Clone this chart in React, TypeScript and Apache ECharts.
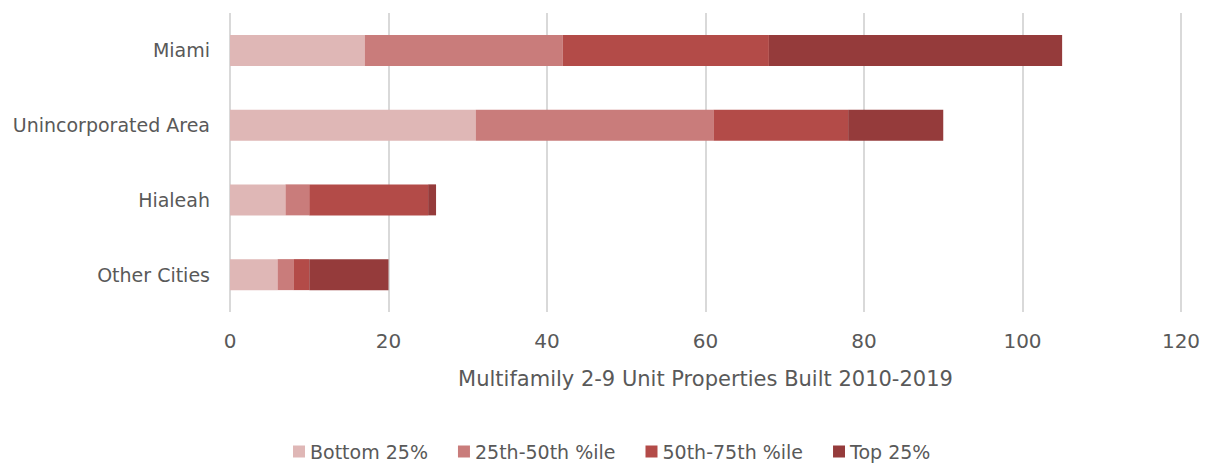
import React, { useEffect, useRef } from "react";
import * as echarts from "echarts";

const categories = ["Miami", "Unincorporated Area", "Hialeah", "Other Cities"];
const seriesNames = ["Bottom 25%", "25th-50th %ile", "50th-75th %ile", "Top 25%"];
const bottom25 = [17, 31, 7, 6];
const p25to50 = [25, 30, 3, 2];
const p50to75 = [26, 17, 15, 2];
const top25 = [37, 12, 1, 10];
const xTicks = [0, 20, 40, 60, 80, 100, 120];
const colors = ["#DFB7B6", "#C97C7B", "#B34B48", "#953B3B"];
const axisTitle = "Multifamily 2-9 Unit Properties Built 2010-2019";

const FONT = "'Century Gothic', 'URW Gothic', 'DejaVu Sans', sans-serif";

export default function App() {
  const ref = useRef<HTMLDivElement>(null);
  useEffect(() => {
    if (!ref.current) return;
    const chart = echarts.init(ref.current, null, { renderer: "svg" });
    const values = [bottom25, p25to50, p50to75, top25];
    chart.setOption({
      animation: false,
      textStyle: { fontFamily: FONT, color: "#595959" },
      grid: { left: 230, right: 28, top: 13, bottom: 154, containLabel: false },
      legend: {
        bottom: 0,
        left: 288,
        itemWidth: 12,
        itemHeight: 12,
        itemGap: 30,
        icon: "rect",
        textStyle: { fontSize: 19, color: "#595959", fontFamily: FONT },
        data: seriesNames,
      },
      xAxis: {
        type: "value",
        min: xTicks[0],
        max: xTicks[xTicks.length - 1],
        interval: 20,
        name: axisTitle,
        nameLocation: "middle",
        nameGap: 56,
        nameTextStyle: { fontSize: 21, color: "#595959", fontFamily: FONT },
        axisLine: { show: false },
        axisTick: { show: false },
        axisLabel: { fontSize: 20, color: "#595959", margin: 19 },
        splitLine: { show: true, lineStyle: { color: "#D9D9D9", width: 2 } },
      },
      yAxis: {
        type: "category",
        inverse: true,
        data: categories,
        axisLine: { show: false },
        axisTick: { show: false },
        axisLabel: { fontSize: 19, color: "#595959", margin: 20 },
        splitLine: { show: false },
      },
      series: seriesNames.map((name, i) => ({
        name,
        type: "bar",
        stack: "total",
        barWidth: 31,
        itemStyle: { color: colors[i] },
        data: values[i],
      })),
    });
    return () => chart.dispose();
  }, []);
  return (
    <div
      ref={ref}
      style={{ position: "fixed", left: 0, top: 0, width: 1209, height: 466, background: "#fff" }}
    />
  );
}
